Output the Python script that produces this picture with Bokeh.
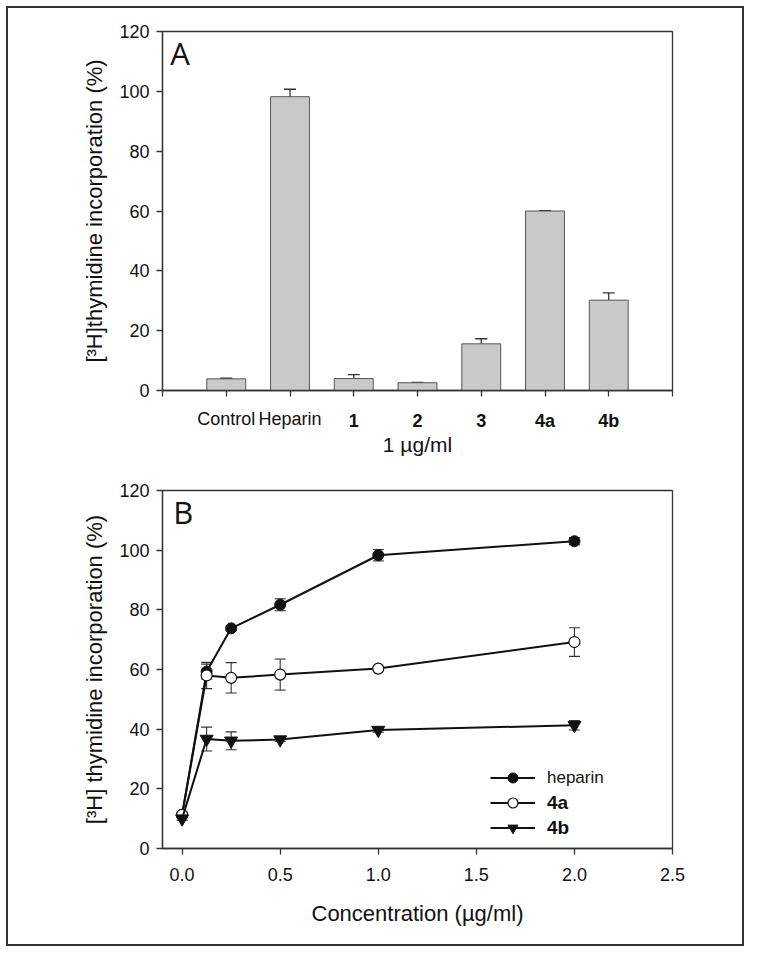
from bokeh.plotting import figure
from bokeh.models import (ColumnDataSource, FixedTicker, Whisker, TeeHead, LinearAxis,
                          Legend, LegendItem, Label, NumeralTickFormatter, Range1d, Spacer)
from bokeh.layouts import column, row
from bokeh.embed import file_html
from bokeh.resources import INLINE

# ---------------- data: panel A ----------------
categories = ["Control", "Heparin", "1", "2", "3", "4a", "4b"]
bold_categories = ["1", "2", "3", "4a", "4b"]
bar_values = [3.9, 98.2, 4.0, 2.6, 15.6, 60.0, 30.2]
bar_errors = [0.2, 2.5, 1.3, 0.1, 1.7, 0.15, 2.4]
y_ticks = [0, 20, 40, 60, 80, 100, 120]

# ---------------- data: panel B ----------------
conc = [0.0, 0.125, 0.25, 0.5, 1.0, 2.0]
heparin = [11.3, 59.3, 73.8, 81.7, 98.3, 103.0]
heparin_err = [0.8, 2.5, 0.8, 2.0, 1.9, 1.2]
cmp_4a = [11.3, 58.0, 57.2, 58.3, 60.3, 69.2]
cmp_4a_err = [0.5, 4.4, 5.1, 5.2, 0.6, 4.8]
cmp_4b = [10.0, 36.7, 36.1, 36.5, 39.7, 41.3]
cmp_4b_err = [0.5, 4.0, 3.0, 0.6, 0.7, 1.6]
x_ticks_b = [0.0, 0.5, 1.0, 1.5, 2.0, 2.5]

FONT = "Liberation Sans"
AX = "#333333"
TICK_SIZE = "18px"


def style_axes(p):
    for ax in p.xaxis + p.yaxis:
        ax.axis_line_color = AX
        ax.axis_line_width = 1.3
        ax.major_tick_line_color = AX
        ax.major_tick_line_width = 1.3
        ax.major_tick_out = 6
        ax.major_tick_in = 0
        ax.minor_tick_line_color = None
        ax.major_label_text_font = FONT
        ax.major_label_text_font_size = TICK_SIZE
        ax.major_label_text_color = "#111111"
        ax.axis_label_text_font = FONT
        ax.axis_label_text_font_style = "normal"
        ax.axis_label_text_color = "#111111"
    p.grid.visible = False
    p.outline_line_color = AX
    p.outline_line_width = 1.3
    p.background_fill_color = "white"
    p.border_fill_color = "white"


# ================= Panel A =================
n = len(categories)
cat_pos = list(range(1, n + 1))
src_a = ColumnDataSource(dict(
    x=cat_pos, top=bar_values,
    upper=[v + e for v, e in zip(bar_values, bar_errors)],
))

p1 = figure(width=734, height=464, x_range=Range1d(0, n + 1), y_range=Range1d(0, 120),
            output_backend="svg", toolbar_location=None,
            min_border_left=154, min_border_right=70, min_border_top=23, min_border_bottom=82)
p1.vbar(x="x", top="top", bottom=0, width=0.61, source=src_a,
        fill_color="#c8c9cb", line_color="#555555", line_width=1)
wa = Whisker(base="x", upper="upper", lower="top", source=src_a, dimension="height",
             line_color=AX, line_width=1.3,
             upper_head=TeeHead(size=12, line_color=AX, line_width=1.3), lower_head=None)
p1.add_layout(wa)

style_axes(p1)
p1.yaxis.ticker = FixedTicker(ticks=y_ticks)
p1.yaxis.major_label_standoff = 7
p1.yaxis.axis_label = "[³H]thymidine incorporation (%)"
p1.yaxis.axis_label_text_font_size = "22px"
p1.yaxis.axis_label_standoff = 9

# first bottom axis: line, ticks and the plain-weight category names
xa = p1.xaxis[0]
xa.ticker = FixedTicker(ticks=list(range(0, n + 2)))
ov = {i: "" for i in range(0, n + 2)}
for i, c in zip(cat_pos, categories):
    if c not in bold_categories:
        ov[i] = c
xa.major_label_overrides = ov
xa.major_label_text_font_size = "18px"
xa.major_label_standoff = 12

# second bottom axis: bold category names lifted into the same row, plus axis title
ov2 = {i: "" for i in range(0, n + 2)}
for i, c in zip(cat_pos, categories):
    if c in bold_categories:
        ov2[i] = c
xb = LinearAxis(ticker=FixedTicker(ticks=list(range(0, n + 2))),
                major_label_overrides=ov2, axis_line_color=None, major_tick_line_color=None,
                minor_tick_line_color=None, major_tick_out=0, major_tick_in=0,
                major_label_standoff=-21, major_label_text_font=FONT,
                major_label_text_font_size="18px", major_label_text_font_style="bold",
                major_label_text_color="#111111",
                axis_label="1 µg/ml", axis_label_text_font=FONT,
                axis_label_text_font_size="21px", axis_label_text_font_style="normal",
                axis_label_text_color="#111111", axis_label_standoff=-1)
p1.add_layout(xb, "below")

p1.add_layout(Label(x=0.12, y=120, text="A", text_font="Open Sans", text_font_size="31px",
                    text_baseline="top", text_color="#111111"))

# ================= Panel B =================
def err_src(xs, ys, es):
    return ColumnDataSource(dict(x=xs, y=ys,
                                 lo=[a - b for a, b in zip(ys, es)],
                                 hi=[a + b for a, b in zip(ys, es)]))

src_h = err_src(conc, heparin, heparin_err)
src_4a = err_src(conc, cmp_4a, cmp_4a_err)
src_4b = err_src(conc, cmp_4b, cmp_4b_err)

p2 = figure(width=734, height=472, x_range=Range1d(-0.1, 2.5), y_range=Range1d(0, 120),
            output_backend="svg", toolbar_location=None,
            min_border_left=152, min_border_right=69, min_border_top=18, min_border_bottom=96)

for s in (src_h, src_4a, src_4b):
    p2.add_layout(Whisker(base="x", upper="hi", lower="lo", source=s, dimension="height",
                          line_color=AX, line_width=1.1,
                          upper_head=TeeHead(size=11, line_color=AX, line_width=1.1),
                          lower_head=TeeHead(size=11, line_color=AX, line_width=1.1)))

l_h = p2.line("x", "y", source=src_h, line_color="#111111", line_width=2)
m_h = p2.scatter("x", "y", source=src_h, marker="circle", size=11,
                 fill_color="#111111", line_color="#111111")
l_a = p2.line("x", "y", source=src_4a, line_color="#111111", line_width=2)
m_a = p2.scatter("x", "y", source=src_4a, marker="circle", size=11,
                 fill_color="white", line_color="#111111", line_width=1.2)
l_b = p2.line("x", "y", source=src_4b, line_color="#111111", line_width=2)
m_b = p2.scatter("x", "y", source=src_4b, marker="inverted_triangle", size=13,
                 fill_color="#111111", line_color="#111111")

style_axes(p2)
p2.yaxis.ticker = FixedTicker(ticks=y_ticks)
p2.yaxis.major_label_standoff = 7
p2.yaxis.axis_label = "[³H] thymidine incorporation (%)"
p2.yaxis.axis_label_text_font_size = "22px"
p2.yaxis.axis_label_standoff = 9
p2.xaxis.ticker = FixedTicker(ticks=x_ticks_b)
p2.xaxis.formatter = NumeralTickFormatter(format="0.0")
p2.xaxis.major_label_standoff = 13
p2.xaxis.axis_label = "Concentration (µg/ml)"
p2.xaxis.axis_label_text_font_size = "22px"
p2.xaxis.axis_label_standoff = 17

leg_common = dict(glyph_width=45, glyph_height=25, label_height=25, spacing=0, padding=0,
                  margin=0, label_standoff=12, border_line_color=None,
                  background_fill_alpha=0, label_text_font=FONT, label_text_color="#111111")
leg1 = Legend(items=[LegendItem(label="heparin", renderers=[l_h, m_h])],
              location=(328, 58), label_text_font_size="17px", **leg_common)
leg2 = Legend(items=[LegendItem(label="4a", renderers=[l_a, m_a]),
                     LegendItem(label="4b", renderers=[l_b, m_b])],
              location=(328, 8), label_text_font_size="19px", label_text_font_style="bold",
              **leg_common)
p2.add_layout(leg1)
p2.add_layout(leg2)

p2.add_layout(Label(x=-0.045, y=120, text="B", text_font="Open Sans", text_font_size="31px",
                    text_baseline="top", text_color="#111111"))

panel = column(p1, p2, styles={"border": "2px solid #333333"})
layout = column(Spacer(width=10, height=6), row(Spacer(width=6, height=10), panel))

open("out.html", "w").write(file_html(layout, INLINE))
